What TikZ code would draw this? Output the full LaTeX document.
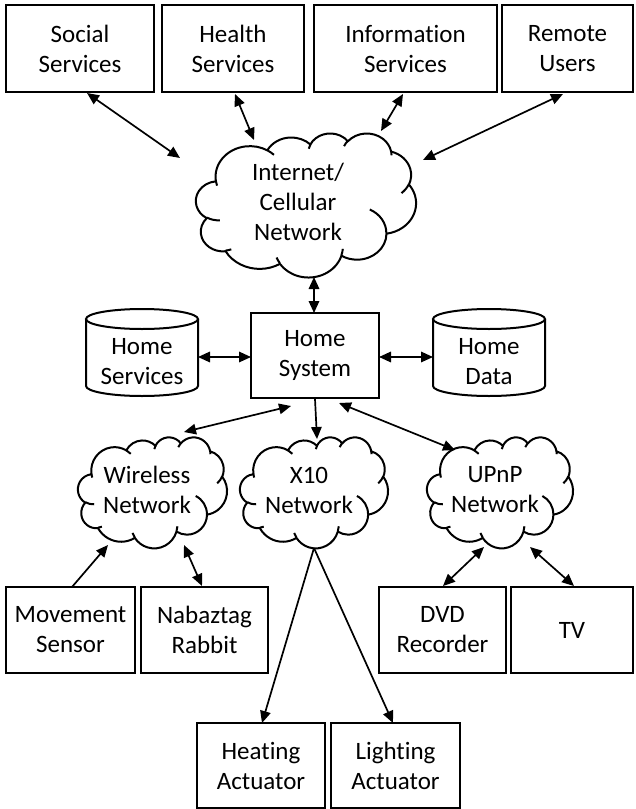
\documentclass[tikz,border=0pt]{standalone}
\usepackage{fontspec}
\setmainfont{Carlito}[Ligatures=NoCommon]
\usetikzlibrary{arrows.meta}
\tikzset{
  oocalc/.code n args={4}{%
    \pgfmathsetmacro\ooS{atan2((#1)*sin(#3),(#2)*cos(#3))}%
    \pgfmathsetmacro\ooE{atan2((#1)*sin((#3)+(#4)),(#2)*cos((#3)+(#4)))}%
    \pgfmathsetmacro\ooD{mod((\ooE)-(\ooS)+720,360)}%
    \global\let\ooS\ooS \global\let\ooD\ooD},
  ooarc/.style n args={4}{oocalc={#1}{#2}{#3}{#4},
    insert path={arc[start angle=\ooS, delta angle=\ooD, x radius=#1, y radius=#2]}},
  cloudline/.style={line width=2pt, line join=round},
  box/.style={draw, line width=2pt, align=center, inner sep=0pt,
    font=\fontsize{25}{30}\selectfont},
  lbl/.style={align=center, inner sep=0pt, font=\fontsize{25}{30}\selectfont},
  cyl/.style={line width=2pt},
  conn/.style={line width=1.7pt},
  dbl/.style={conn, {Triangle[length=12pt,width=10.5pt]}-{Triangle[length=12pt,width=10.5pt]}},
  sgl/.style={conn, -{Triangle[length=12pt,width=10.5pt]}},
}
\newcommand\oocloud[4]{%
  \pgfmathsetmacro\ooW{(#3)/432}%
  \pgfmathsetmacro\ooH{(#4)/432}%
  \begin{scope}[shift={(#1,#2)}]
  \begin{scope}[x=\ooW pt, y=-\ooH pt]
    \draw[cloudline] (39.00,143.70)
      [ooarc={67.53}{91.90}{-190.48748}{123.78053}]
      [ooarc={53.33}{72.67}{-144.10238}{89.94523}]
      [ooarc={43.65}{59.45}{-145.80792}{99.72302}]
      [ooarc={48.57}{65.95}{-130.98607}{117.24173}]
      [ooarc={53.33}{72.73}{-78.70888}{109.02692}]
      [ooarc={67.75}{92.20}{-46.26725}{130.269}]
      [ooarc={57.85}{78.67}{0.62502}{114.03333}]
      [ooarc={67.52}{92.15}{22.4516}{115.17255}]
      [ooarc={77.20}{105.43}{66.24263}{75.71102}]
      [ooarc={43.60}{59.18}{-274.94208}{146.73557}]
      [ooarc={43.45}{59.45}{-246.8285}{152.51885}] -- cycle;
    \draw[cloudline]
      (46.93,261.77) [ooarc={43.45}{59.45}{86.742}{26.4295}]
      (69.28,348.99) [ooarc={43.60}{59.18}{73.61047}{11.44747}]
      (164.78,390.90) [ooarc={67.52}{92.15}{137.62415}{14.0811}]
      (288.27,347.51) [ooarc={67.52}{92.15}{6.45327}{15.99835}]
      (341.29,229.54) [ooarc={57.85}{78.67}{-70.29235}{70.91737}]
      (417.98,153.54) [ooarc={53.33}{72.73}{30.31803}{27.7515}]
      (383.24,54.26) [ooarc={48.57}{65.95}{-13.74433}{14.8589}]
      (290.78,39.52) [ooarc={48.57}{65.95}{-149.18145}{18.19537}]
      (221.41,47.20) [ooarc={43.65}{59.45}{-163.49427}{17.68635}]
      (140.00,51.92) [ooarc={67.53}{91.90}{-66.70695}{12.31935}]
      (41.27,157.89) [ooarc={67.53}{91.90}{156.62835}{12.884}];
  \end{scope}
  \end{scope}}
\begin{document}
\begin{tikzpicture}[x=1pt, y=-1pt]
\fill[white] (0,0) rectangle (635,809);
\useasboundingbox (0,0) rectangle (635,809);

% top row
\node[box, minimum width=148, minimum height=87] (soc) at (80,48.5) {Social\\Services};
\node[box, minimum width=142, minimum height=87] (hea) at (233,48.5) {Health\\Services};
\node[box, minimum width=183, minimum height=87] (inf) at (405.5,48.5) {Information\\Services};
\node[box, minimum width=131, minimum height=87] (rem) at (567.5,48.5) {Remote\\Users};

% internet cloud
\oocloud{196}{133}{220}{144}
\node[lbl] (inet) at (298,202) {Internet/\\Cellular\\Network};

% home system row
\node[box, minimum width=128, minimum height=85] (sys) at (315,355.5) {Home\\System};
\draw[cyl] (86,319) -- (86,386) arc[start angle=180, end angle=0, x radius=56, y radius=10] -- (198,319);
\draw[cyl] (142,319) ellipse [x radius=56, y radius=10];
\node[lbl] (hsv) at (142,362) {Home\\Services};
\draw[cyl] (433,319) -- (433,386) arc[start angle=180, end angle=0, x radius=56, y radius=10] -- (545,319);
\draw[cyl] (489,319) ellipse [x radius=56, y radius=10];
\node[lbl] (hdt) at (489,362) {Home\\Data};

% network clouds
\oocloud{78}{437}{149}{111}
\node[lbl] (wls) at (147,490) {Wireless\\Network};
\oocloud{240}{437}{148}{111}
\node[lbl] (x10) at (309,490) {X10\\Network};
\oocloud{427}{437}{146}{111}
\node[lbl] (upn) at (495,490) {UPnP\\Network};

% devices
\node[box, minimum width=129, minimum height=86] (mov) at (70.5,630) {Movement\\Sensor};
\node[box, minimum width=127, minimum height=86] (nab) at (204.5,630) {Nabaztag\\Rabbit};
\node[box, minimum width=127, minimum height=86] (dvd) at (442.5,630) {DVD\\Recorder};
\node[box, minimum width=122, minimum height=86] (tv) at (572,630) {TV};
\node[box, minimum width=128, minimum height=85] (heat) at (261,765.5) {Heating\\Actuator};
\node[box, minimum width=129, minimum height=85] (light) at (395.5,765.5) {Lighting\\Actuator};

% connectors
\draw[dbl] ([shift={(7,44.5)}]soc.center) -- ([shift={(-118,-44)}]inet.center);
\draw[dbl] ([shift={(2,45.5)}]hea.center) -- ([shift={(-44,-62)}]inet.center);
\draw[dbl] ([shift={(-2.5,45.5)}]inf.center) -- ([shift={(83,-71)}]inet.center);
\draw[dbl] ([shift={(-4.5,45.5)}]rem.center) -- ([shift={(125,-42)}]inet.center);
\draw[dbl] ([shift={(16,75)}]inet.center) -- ([shift={(-1,-42.5)}]sys.center);
\draw[dbl] ([shift={(56,-5)}]hsv.center) -- ([shift={(-64,1.5)}]sys.center);
\draw[dbl] ([shift={(64,1.5)}]sys.center) -- ([shift={(-56,-5)}]hdt.center);
\draw[dbl] ([shift={(-24,50.5)}]sys.center) -- ([shift={(37,-58)}]wls.center);
\draw[sgl] ([shift={(0,43.5)}]sys.center) -- ([shift={(8,-51)}]x10.center);
\draw[dbl] ([shift={(24,47.5)}]sys.center) -- ([shift={(-40,-40)}]upn.center);
\draw[sgl] ([shift={(1.5,-43)}]mov.center) -- ([shift={(-39,55)}]wls.center);
\draw[dbl] ([shift={(37,55)}]wls.center) -- ([shift={(-2.5,-44)}]nab.center);
\draw[sgl] ([shift={(5,58)}]x10.center) -- ([shift={(1,-42.5)}]heat.center);
\draw[sgl] ([shift={(5,58)}]x10.center) -- ([shift={(-2.5,-42.5)}]light.center);
\draw[dbl] ([shift={(-11,57)}]upn.center) -- ([shift={(0.5,-44)}]dvd.center);
\draw[dbl] ([shift={(35,57)}]upn.center) -- ([shift={(2,-44)}]tv.center);
\end{tikzpicture}
\end{document}
